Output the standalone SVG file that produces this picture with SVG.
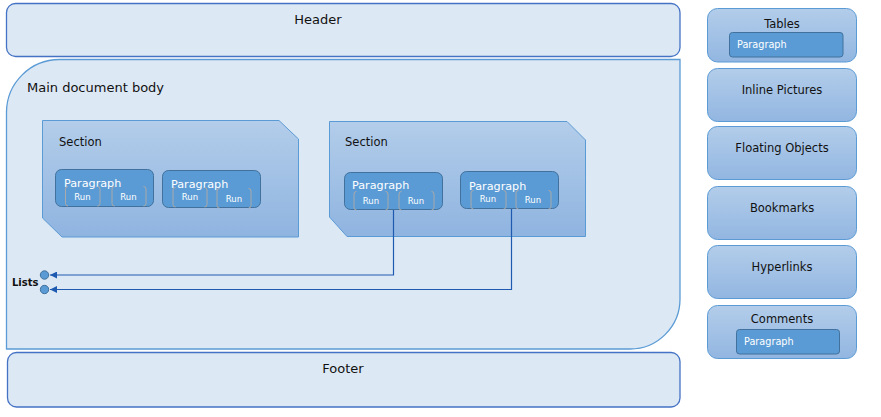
<svg xmlns="http://www.w3.org/2000/svg" width="881" height="417" viewBox="0 0 881 417">
<defs>
<linearGradient id="gSec" x1="0" y1="0" x2="0" y2="1"><stop offset="0" stop-color="#b3cdea"/><stop offset="1" stop-color="#8fb4e0"/></linearGradient>
<linearGradient id="gBox" x1="0" y1="0" x2="0" y2="1"><stop offset="0" stop-color="#b3cdea"/><stop offset="1" stop-color="#92b6e1"/></linearGradient>
<marker id="arr" viewBox="0 0 7 7" refX="7" refY="3.5" markerWidth="7" markerHeight="7" markerUnits="userSpaceOnUse" orient="auto"><path d="M0,0 L7,3.5 L0,7 Z" fill="#1e5bb0"/></marker>
</defs>
<style>
text{font-family:"DejaVu Sans","Liberation Sans",sans-serif;fill:#111}
.region{fill:#dde8f5;stroke:#4472c4;stroke-width:1.3}
.body{fill:#dde8f5;stroke:#5b9bd5;stroke-width:1.3}
.sec{fill:url(#gSec);stroke:#5b9bd5;stroke-width:1}
.box{fill:url(#gBox);stroke:#5b9bd5;stroke-width:1}
.para{fill:#5b9bd5;stroke:#41719c;stroke-width:1}
.pt{fill:#fff;font-size:11.2px}
.pts{fill:#fff;font-size:9.7px}
.run{fill:none;stroke:#a9a9a9;stroke-width:1}
.rt{fill:#fff;font-size:8.5px;text-anchor:middle}
.big{font-size:13px}
.mid{font-size:11.5px}
.c{text-anchor:middle}
.conn{fill:none;stroke:#1e5bb0;stroke-width:1.2}
.dot{fill:#5b9bd5;stroke:#41719c;stroke-width:1}
</style>

<g id="header"><rect class="region" x="6.5" y="3.5" width="673.5" height="53" rx="9"/><text class="big c" x="318" y="24">Header</text></g>

<g id="main-body"><path class="body" d="M6.5,349 V112 A53,53 0 0 1 59.5,59.5 H680 V299 A50,50 0 0 1 630,349 Z"/><text class="big" x="27" y="92">Main document body</text></g>

<g id="footer"><rect class="region" x="7.5" y="352.5" width="672.5" height="54.5" rx="9"/><text class="big c" x="343" y="373">Footer</text></g>

<g id="section1">
<path class="sec" d="M42.5,120.5 H279 L298.5,139 V237 H62 L42.5,218 Z"/>
<text class="mid" x="59" y="146">Section</text>
<g id="s1p1"><rect class="para" x="55.5" y="169.5" width="98" height="37" rx="6"/><text class="pt" x="64" y="187">Paragraph</text>
<path class="run" d="M68,186.5 Q65.5,186.5 65.5,189 V203.5 Q65.5,206 68,206 M97.5,186.5 Q100,186.5 100,189 V203.5 Q100,206 97.5,206"/><text class="rt" x="82.5" y="200">Run</text>
<path class="run" d="M114.5,186.5 Q112,186.5 112,189 V203.5 Q112,206 114.5,206 M143.5,186.5 Q146,186.5 146,189 V203.5 Q146,206 143.5,206"/><text class="rt" x="128.5" y="200">Run</text></g>
<g id="s1p2"><rect class="para" x="162.5" y="170.5" width="98" height="37" rx="6"/><text class="pt" x="171" y="188">Paragraph</text>
<path class="run" d="M175.5,187.5 Q173,187.5 173,190 V204.5 Q173,207 175.5,207 M204.5,187.5 Q207,187.5 207,190 V204.5 Q207,207 204.5,207"/><text class="rt" x="190" y="200">Run</text>
<path class="run" d="M219.5,188.5 Q217,188.5 217,191 V205.5 Q217,208 219.5,208 M248.5,188.5 Q251,188.5 251,191 V205.5 Q251,208 248.5,208"/><text class="rt" x="234" y="202">Run</text></g>
</g>

<g id="section2">
<path class="sec" d="M329.5,121.5 H567 L585.5,140 V236.5 H347 L329.5,217 Z"/>
<text class="mid" x="345" y="146">Section</text>
<g id="s2p1"><rect class="para" x="344.5" y="172.5" width="98" height="37" rx="6"/><text class="pt" x="352" y="189">Paragraph</text>
<path class="run" d="M356.5,191.5 Q354,191.5 354,194 V207.5 Q354,210 356.5,210 M385.5,191.5 Q388,191.5 388,194 V207.5 Q388,210 385.5,210"/><text class="rt" x="371" y="204">Run</text>
<path class="run" d="M401.5,191.5 Q399,191.5 399,194 V207.5 Q399,210 401.5,210 M431.5,191.5 Q434,191.5 434,194 V207.5 Q434,210 431.5,210"/><text class="rt" x="416" y="204">Run</text></g>
<g id="s2p2"><rect class="para" x="460.5" y="171.5" width="98" height="37" rx="6"/><text class="pt" x="469" y="190">Paragraph</text>
<path class="run" d="M473.5,190.5 Q471,190.5 471,193 V206.5 Q471,209 473.5,209 M503.5,190.5 Q506,190.5 506,193 V206.5 Q506,209 503.5,209"/><text class="rt" x="488" y="202">Run</text>
<path class="run" d="M518.5,190.5 Q516,190.5 516,193 V206.5 Q516,209 518.5,209 M548.5,190.5 Q551,190.5 551,193 V206.5 Q551,209 548.5,209"/><text class="rt" x="533" y="203">Run</text></g>
</g>

<g id="lists">
<circle class="dot" cx="44.5" cy="275" r="4.2"/>
<circle class="dot" cx="44.5" cy="289.5" r="4.2"/>
<text x="12" y="286" style="font-size:10px;font-weight:bold">Lists</text>
</g>

<g id="connectors">
<path class="conn" d="M393.5,210 V275 H50" marker-end="url(#arr)"/>
<path class="conn" d="M511.5,209 V289.5 H50" marker-end="url(#arr)"/>
</g>

<g id="tables"><rect class="box" x="707.5" y="8.5" width="149" height="53.5" rx="10"/><text class="mid c" x="782" y="28">Tables</text>
<rect class="para" x="729.5" y="32.5" width="113.5" height="24.5" rx="3"/><text class="pts" x="737" y="48">Paragraph</text></g>
<g id="inline-pictures"><rect class="box" x="707.5" y="68.5" width="149" height="53" rx="10"/><text class="mid c" x="782" y="94">Inline Pictures</text></g>
<g id="floating-objects"><rect class="box" x="707.5" y="126.5" width="149" height="53" rx="10"/><text class="mid c" x="782" y="152">Floating Objects</text></g>
<g id="bookmarks"><rect class="box" x="707.5" y="186.5" width="149" height="53" rx="10"/><text class="mid c" x="782" y="212">Bookmarks</text></g>
<g id="hyperlinks"><rect class="box" x="707.5" y="245.5" width="149" height="53" rx="10"/><text class="mid c" x="782" y="271">Hyperlinks</text></g>
<g id="comments"><rect class="box" x="707.5" y="305.5" width="149" height="53" rx="10"/><text class="mid c" x="782" y="323">Comments</text>
<rect class="para" x="736.5" y="329.5" width="103" height="24.5" rx="3"/><text class="pts" x="744" y="345">Paragraph</text></g>
</svg>
